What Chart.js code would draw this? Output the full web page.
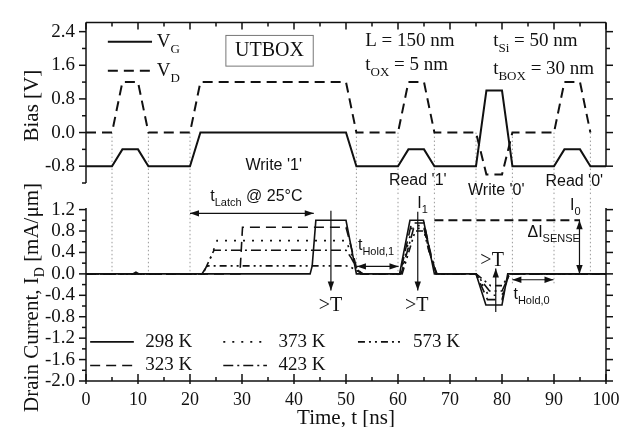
<!DOCTYPE html>
<html>
<head>
<meta charset="utf-8">
<title>UTBOX latch</title>
<script src="https://cdn.jsdelivr.net/npm/chart.js"></script>
<style>
  body { margin: 0; background: #fff; }
  #wrap { position: relative; width: 628px; height: 427px; }
  canvas { position: absolute; left: 0; top: 0; }
</style>
</head>
<body>
<div id="wrap">
  <canvas id="biasChart" width="628" height="427"></canvas>
  <canvas id="currentChart" width="628" height="427"></canvas>
</div>
<script>
// top panel: gate / drain bias pulses, time in ns
var biasTime  = [0, 5, 7, 10, 12, 20, 22, 50, 52, 60, 62, 65, 67, 75, 77, 80, 82, 90, 92, 95, 97, 100];
var vGate     = [-0.8, -0.8, -0.4, -0.4, -0.8, -0.8, 0, 0, -0.8, -0.8, -0.4, -0.4, -0.8, -0.8, 1.0, 1.0, -0.8, -0.8, -0.4, -0.4, -0.8, -0.8];
var drainTime = [0, 5, 7, 10, 12, 20, 22, 50, 52, 60, 62, 65, 67, 75, 77, 80, 82, 90, 92, 95, 97];
var vDrain    = [0, 0, 1.2, 1.2, 0, 0, 1.2, 1.2, 0, 0, 1.2, 1.2, 0, 0, -1.0, -1.0, 0, 0, 1.2, 1.2, 0];

// bottom panel: drain current (mA/um) for each temperature
var temps = ["298 K", "323 K", "373 K", "423 K", "573 K"];
var t298 = [0, 9.0, 9.6, 10.2, 43.1, 43.5, 44.2, 50, 52, 60.3, 62.3, 64.9, 67, 75, 76.9, 80, 81.1, 100];
var i298 = [0, 0, 0.03, 0, 0, 0.15, 1.0, 1.0, 0, 0, 1.0, 1.0, 0, 0, -0.58, -0.58, 0, 0];
var t323 = [0, 29.6, 30.1, 50, 51, 52, 52.8, 60.4, 62.6, 65, 66, 67.3, 75, 77.2, 80, 81.3, 100];
var i323 = [0, 0, 0.87, 0.87, 0.5, 0.12, 0, 0, 0.95, 0.95, 0.5, 0, 0, -0.48, -0.48, 0, 0];
var t373 = [0, 22.8, 25.2, 50, 51, 52, 53, 60.5, 62.8, 65, 66, 67.3, 75, 77.4, 80, 81.4, 100];
var i373 = [0, 0, 0.62, 0.62, 0.38, 0.1, 0, 0, 0.9, 0.9, 0.45, 0, 0, -0.4, -0.4, 0, 0];
var t423 = [0, 22.5, 24.6, 50, 51, 52.2, 53.2, 60.6, 63, 65, 66, 67.4, 75, 77.6, 80, 81.5, 100];
var i423 = [0, 0, 0.44, 0.44, 0.3, 0.08, 0, 0, 0.85, 0.85, 0.42, 0, 0, -0.32, -0.32, 0, 0];
var t573 = [0, 22.3, 23.3, 50, 51, 52.3, 53.3, 60.8, 63.3, 65, 66, 67.5, 75, 77.8, 80, 81.6, 100];
var i573 = [0, 0, 0.15, 0.15, 0.12, 0.05, 0, 0, 0.8, 0.8, 0.4, 0, 0, -0.22, -0.22, 0, 0];
var iOne = 1.0;  // I_1 sense level

// tick labels
var biasTicks = [-0.8, 0.0, 0.8, 1.6, 2.4];
var currentTicks = [-2.0, -1.6, -1.2, -0.8, -0.4, 0.0, 0.4, 0.8, 1.2];
var timeTicks = [0, 10, 20, 30, 40, 50, 60, 70, 80, 90, 100];

var INK = "#111";
var SERIF = "'Liberation Serif', 'Times New Roman', serif";
var SANS = "'Liberation Sans', Arial, sans-serif";
var dashes = [[], [10, 6], [2, 7], [10, 4, 2, 4], [7, 4, 2, 4, 2, 4]];
// dotted guides between pulse edges
var guideTimes = [5, 12, 20, 52, 60, 67, 75, 82, 90, 97];
var guideEnds  = [0, 0, 0, 0, -0.03, 0, -0.03, -0.18, -0.18, 0];

function pts(ts, vs) {
  return ts.map(function (t, i) { return { x: t, y: vs[i] }; });
}

function seg(ctx, x1, y1, x2, y2) {
  ctx.beginPath(); ctx.moveTo(x1, y1); ctx.lineTo(x2, y2); ctx.stroke();
}

// text with subscripts, parts = [[text, isSub], ...]
function rich(ctx, x, y, parts, size, fam, align) {
  var sub = Math.round(size * 0.68), w = 0;
  parts.forEach(function (p) { ctx.font = (p[1] ? sub : size) + "px " + fam; w += ctx.measureText(p[0]).width; });
  var cx = align === "center" ? x - w / 2 : x;
  ctx.textAlign = "left"; ctx.textBaseline = "middle"; ctx.fillStyle = INK;
  parts.forEach(function (p) {
    ctx.font = (p[1] ? sub : size) + "px " + fam;
    ctx.fillText(p[0], cx, p[1] ? y + size * 0.4 : y);
    cx += ctx.measureText(p[0]).width;
  });
}

function head(ctx, x, y, a) {
  var L = 9, W = 3.2;
  ctx.beginPath();
  ctx.moveTo(x, y);
  ctx.lineTo(x - L * Math.cos(a) + W * Math.sin(a), y - L * Math.sin(a) - W * Math.cos(a));
  ctx.lineTo(x - L * Math.cos(a) - W * Math.sin(a), y - L * Math.sin(a) + W * Math.cos(a));
  ctx.closePath(); ctx.fill();
}

function arrow(ctx, x1, y1, x2, y2, both) {
  ctx.save();
  ctx.lineWidth = 1.2; ctx.setLineDash([]); ctx.strokeStyle = INK; ctx.fillStyle = INK;
  seg(ctx, x1, y1, x2, y2);
  head(ctx, x2, y2, Math.atan2(y2 - y1, x2 - x1));
  if (both) head(ctx, x1, y1, Math.atan2(y1 - y2, x1 - x2));
  ctx.restore();
}

function vTicks(ctx, sc, xPos, lo, hi, step, major, dir) {
  var n = Math.round((hi - lo) / step);
  for (var k = 0; k <= n; k++) {
    var v = lo + k * step, r = v / major;
    var len = Math.abs(r - Math.round(r)) < 1e-6 ? 7 : 4;
    var yy = sc.getPixelForValue(v);
    seg(ctx, xPos, yy, xPos + dir * len, yy);
  }
}

function hTicks(ctx, sc, yPos, dir, out) {
  for (var t = 0; t <= 100; t += 5) {
    var major = t % 10 === 0, xx = sc.getPixelForValue(t);
    seg(ctx, xx, yPos - dir * (major ? out : 0), xx, yPos + dir * (major ? 7 : 4));
  }
}

function yAxis(min, max, list) {
  return {
    type: "linear", min: min, max: max,
    afterBuildTicks: function (s) { s.ticks = list.map(function (v) { return { value: v }; }); },
    afterFit: function (s) { s.width = 86; },
    grid: { display: false, drawTicks: false },
    border: { display: false },
    ticks: {
      padding: 11, autoSkip: false, color: INK, font: { family: SERIF, size: 19 },
      callback: function (v) { return Number(v).toFixed(1); }
    }
  };
}

var biasDecor = {
  id: "biasDecor",
  beforeDatasetsDraw: function (chart) {
    var ctx = chart.ctx, x = chart.scales.x, y = chart.scales.y;
    ctx.save();
    ctx.strokeStyle = "#9a9a9a"; ctx.lineWidth = 1; ctx.setLineDash([1.5, 2.5]);
    guideTimes.forEach(function (t) {
      seg(ctx, x.getPixelForValue(t), y.getPixelForValue(0), x.getPixelForValue(t), y.getPixelForValue(-1.52));
    });
    ctx.restore();
  },
  afterDatasetsDraw: function (chart) {
    var ctx = chart.ctx, a = chart.chartArea, x = chart.scales.x, y = chart.scales.y;
    var X = function (v) { return x.getPixelForValue(v); };
    var Y = function (v) { return y.getPixelForValue(v); };
    var ds = chart.data.datasets;
    ctx.save();
    ctx.strokeStyle = INK; ctx.lineWidth = 1.5; ctx.setLineDash([]);
    seg(ctx, a.left, a.top, a.left, a.bottom);
    seg(ctx, a.left, a.top, a.right, a.top);
    seg(ctx, a.right, a.top, a.right, Y(-0.8));
    vTicks(ctx, y, a.left, -1.2, 2.4, 0.4, 0.8, -1);
    vTicks(ctx, y, a.right, -0.8, 2.4, 0.4, 0.8, 1);
    hTicks(ctx, x, a.top, 1, 0);

    // legend
    [[0, 2.16], [1, 1.47]].forEach(function (e) {
      var d = ds[e[0]], nm = d.label.split("_");
      ctx.lineWidth = d.borderWidth; ctx.setLineDash(d.borderDash || []);
      seg(ctx, X(4.2), Y(e[1]), X(12.7), Y(e[1]));
      ctx.setLineDash([]);
      rich(ctx, X(13.6), Y(e[1]), [[nm[0], 0], [nm[1], 1]], 19, SERIF);
    });

    // UTBOX box and device parameters
    ctx.strokeStyle = "#777"; ctx.lineWidth = 1;
    ctx.strokeRect(X(26.9), Y(2.31), X(43.7) - X(26.9), Y(1.58) - Y(2.31));
    rich(ctx, X(35.3), Y(1.95), [["UTBOX", 0]], 20, SERIF, "center");
    rich(ctx, X(53.7), Y(2.18), [["L = 150 nm", 0]], 19, SERIF);
    rich(ctx, X(53.7), Y(1.60), [["t", 0], ["OX", 1], [" = 5 nm", 0]], 19, SERIF);
    rich(ctx, X(78.3), Y(2.17), [["t", 0], ["Si", 1], [" = 50 nm", 0]], 19, SERIF);
    rich(ctx, X(78.3), Y(1.51), [["t", 0], ["BOX", 1], [" = 30 nm", 0]], 19, SERIF);

    // operation labels
    rich(ctx, X(36.1), Y(-0.78), [["Write '1'", 0]], 16, SANS, "center");
    rich(ctx, X(63.8), Y(-1.14), [["Read '1'", 0]], 16, SANS, "center");
    rich(ctx, X(78.9), Y(-1.38), [["Write '0'", 0]], 16, SANS, "center");
    rich(ctx, X(93.9), Y(-1.16), [["Read '0'", 0]], 16, SANS, "center");

    // axis title
    ctx.translate(a.left - 54, Y(0.64));
    ctx.rotate(-Math.PI / 2);
    rich(ctx, 0, 0, [["Bias [V]", 0]], 21, SERIF, "center");
    ctx.restore();
  }
};

var currentDecor = {
  id: "currentDecor",
  beforeDatasetsDraw: function (chart) {
    var ctx = chart.ctx, x = chart.scales.x, y = chart.scales.y;
    ctx.save();
    ctx.strokeStyle = "#9a9a9a"; ctx.lineWidth = 1; ctx.setLineDash([1.5, 2.5]);
    guideTimes.forEach(function (t, k) {
      seg(ctx, x.getPixelForValue(t), y.getPixelForValue(1.42), x.getPixelForValue(t), y.getPixelForValue(guideEnds[k]));
    });
    ctx.restore();
  },
  afterDatasetsDraw: function (chart) {
    var ctx = chart.ctx, a = chart.chartArea, x = chart.scales.x, y = chart.scales.y;
    var X = function (v) { return x.getPixelForValue(v); };
    var Y = function (v) { return y.getPixelForValue(v); };
    var ds = chart.data.datasets;
    ctx.save();
    ctx.strokeStyle = INK; ctx.lineWidth = 1.5; ctx.setLineDash([]);
    seg(ctx, a.left, a.top, a.left, a.bottom);
    seg(ctx, a.right, a.top, a.right, a.bottom);
    seg(ctx, a.left, a.bottom, a.right, a.bottom);
    vTicks(ctx, y, a.left, -2.0, 1.2, 0.2, 0.4, -1);
    vTicks(ctx, y, a.right, -2.0, 1.2, 0.2, 0.4, 1);
    hTicks(ctx, x, a.bottom, -1, 3);

    // I_1 reference level and sense window
    ctx.lineWidth = 2; ctx.setLineDash([9, 5]);
    seg(ctx, X(67), Y(iOne), X(95), Y(iOne));
    ctx.setLineDash([]);
    arrow(ctx, X(94.9), Y(iOne), X(94.9), Y(0), true);
    rich(ctx, X(84.9), Y(0.77), [["\u0394I", 0], ["SENSE", 1]], 16, SANS);
    rich(ctx, X(93.1), Y(1.27), [["I", 0], ["0", 1]], 16, SANS);

    // latch time
    arrow(ctx, X(20), Y(1.13), X(43.8), Y(1.13), true);
    rich(ctx, X(23.9), Y(1.44), [["t", 0], ["Latch", 1], [" @ 25\u00B0C", 0]], 16, SANS);

    // hold times
    arrow(ctx, X(52.1), Y(0.14), X(60.1), Y(0.14), true);
    rich(ctx, X(52.3), Y(0.52), [["t", 0], ["Hold,1", 1]], 16, SANS);
    arrow(ctx, X(82.0), Y(-0.11), X(89.9), Y(-0.11), true);
    rich(ctx, X(82.2), Y(-0.38), [["t", 0], ["Hold,0", 1]], 16, SANS);

    // temperature trend arrows
    arrow(ctx, X(47.1), Y(1.18), X(47.1), Y(-0.31), false);
    rich(ctx, X(47.0), Y(-0.59), [[">T", 0]], 20, SERIF, "center");
    arrow(ctx, X(63.8), Y(1.16), X(63.8), Y(-0.31), false);
    rich(ctx, X(63.7), Y(1.31), [["I", 0], ["1", 1]], 16, SANS);
    rich(ctx, X(63.6), Y(-0.59), [[">T", 0]], 20, SERIF, "center");
    arrow(ctx, X(78.8), Y(-0.71), X(78.8), Y(0.1), false);
    rich(ctx, X(78.1), Y(0.25), [[">T", 0]], 20, SERIF, "center");

    // legend: 3 columns, 2 rows
    var slots = [[0, 0.8, -1.27], [2, 26.4, -1.27], [4, 52.3, -1.27], [1, 0.8, -1.71], [3, 26.4, -1.71]];
    slots.forEach(function (s) {
      var d = ds[s[0]];
      ctx.strokeStyle = INK; ctx.lineWidth = d.borderWidth; ctx.setLineDash(d.borderDash || []);
      seg(ctx, X(s[1]), Y(s[2]), X(s[1] + 8.4), Y(s[2]));
      ctx.setLineDash([]);
      rich(ctx, X(s[1] + 10.6), Y(s[2]), [[d.label, 0]], 19, SERIF);
    });

    // axis titles
    rich(ctx, X(50), a.bottom + 37, [["Time, t [ns]", 0]], 21, SERIF, "center");
    ctx.translate(a.left - 54, Y(-0.44));
    ctx.rotate(-Math.PI / 2);
    rich(ctx, 0, 0, [["Drain Current, I", 0], ["D", 1], [" [mA/\u03BCm]", 0]], 21, SERIF, "center");
    ctx.restore();
  }
};

Chart.defaults.font.family = SERIF;
Chart.defaults.color = INK;

var biasChart = new Chart(document.getElementById("biasChart"), {
  type: "line",
  data: {
    datasets: [
      { label: "V_G", data: pts(biasTime, vGate), borderColor: INK, borderWidth: 2, borderDash: [] },
      { label: "V_D", data: pts(drainTime, vDrain), borderColor: INK, borderWidth: 2, borderDash: [10, 6] }
    ]
  },
  options: {
    responsive: false, animation: false, events: [],
    layout: { padding: { left: 0, right: 22, top: 10, bottom: 244 } },
    elements: { point: { radius: 0 }, line: { tension: 0, fill: false } },
    plugins: { legend: { display: false }, tooltip: { enabled: false } },
    scales: {
      x: { type: "linear", min: 0, max: 100, display: false },
      y: yAxis(-1.2, 2.62, biasTicks)
    }
  },
  plugins: [biasDecor]
});

var tSeries = [t298, t323, t373, t423, t573];
var iSeries = [i298, i323, i373, i423, i573];

var currentChart = new Chart(document.getElementById("currentChart"), {
  type: "line",
  data: {
    datasets: temps.map(function (name, k) {
      return { label: name, data: pts(tSeries[k], iSeries[k]), borderColor: INK, borderWidth: 1.6, borderDash: dashes[k] };
    })
  },
  options: {
    responsive: false, animation: false, events: [],
    layout: { padding: { left: 0, right: 22, top: 208, bottom: 0 } },
    elements: { point: { radius: 0 }, line: { tension: 0, fill: false } },
    plugins: { legend: { display: false }, tooltip: { enabled: false } },
    scales: {
      x: {
        type: "linear", min: 0, max: 100,
        afterBuildTicks: function (s) { s.ticks = timeTicks.map(function (v) { return { value: v }; }); },
        afterFit: function (s) { s.height = 46; },
        grid: { display: false, drawTicks: false },
        border: { display: false },
        ticks: { padding: 8, autoSkip: false, maxRotation: 0, color: INK, font: { family: SERIF, size: 18 } }
      },
      y: yAxis(-2.0, 1.23, currentTicks)
    }
  },
  plugins: [currentDecor]
});
</script>
</body>
</html>
